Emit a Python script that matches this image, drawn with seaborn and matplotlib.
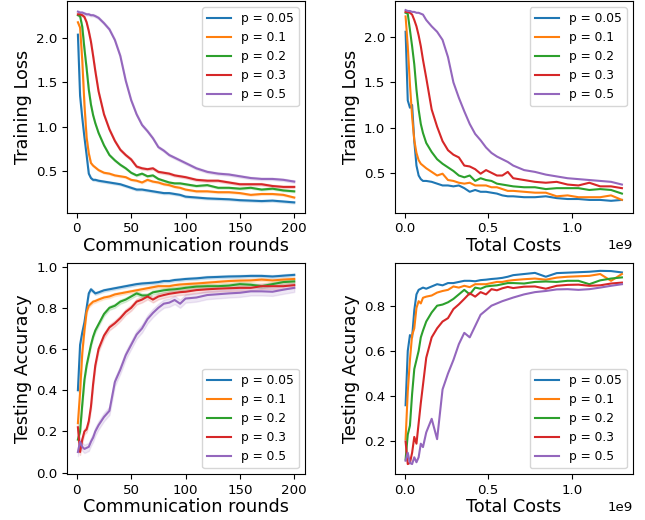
import numpy as np
import pandas as pd
import seaborn as sns
import matplotlib
matplotlib.use("Agg")
import matplotlib.pyplot as plt

labels = ["p = 0.05", "p = 0.1", "p = 0.2", "p = 0.3", "p = 0.5"]

rounds = [1, 3, 5, 7, 9, 11, 13, 15, 17, 20,
          25, 30, 35, 40, 45, 50, 55, 60, 65, 70, 75, 80, 85, 90, 95, 100,
          110, 120, 130, 140, 150, 160, 170, 180, 190, 200]
cost_per_round = 6.5e6  # total costs grow linearly with rounds

# training loss vs rounds (mean over runs)
loss_rounds = {
    "p = 0.05": [2.04, 1.35, 1.10, 0.88, 0.68, 0.47, 0.42, 0.40, 0.40, 0.39,
                 0.38, 0.37, 0.36, 0.35, 0.33, 0.31, 0.29, 0.29, 0.28, 0.27, 0.26, 0.25, 0.25, 0.24, 0.23, 0.21,
                 0.20, 0.19, 0.185, 0.18, 0.17, 0.165, 0.16, 0.165, 0.155, 0.145],
    "p = 0.1": [2.18, 2.12, 1.75, 1.25, 0.88, 0.70, 0.59, 0.56, 0.54, 0.51,
                0.48, 0.47, 0.45, 0.44, 0.43, 0.40, 0.39, 0.37, 0.40, 0.38, 0.37, 0.35, 0.34, 0.32, 0.31, 0.29,
                0.27, 0.27, 0.26, 0.26, 0.25, 0.23, 0.24, 0.24, 0.23, 0.20],
    "p = 0.2": [2.26, 2.25, 2.13, 1.88, 1.66, 1.42, 1.25, 1.13, 1.04, 0.93,
                0.79, 0.68, 0.62, 0.57, 0.53, 0.48, 0.45, 0.47, 0.44, 0.45, 0.41, 0.39, 0.37, 0.36, 0.36, 0.35,
                0.33, 0.34, 0.31, 0.31, 0.30, 0.31, 0.29, 0.30, 0.28, 0.27],
    "p = 0.3": [2.27, 2.27, 2.26, 2.24, 2.18, 2.08, 1.96, 1.80, 1.63, 1.40,
                1.14, 0.97, 0.84, 0.74, 0.68, 0.63, 0.55, 0.53, 0.52, 0.53, 0.49, 0.48, 0.47, 0.45, 0.44, 0.43,
                0.40, 0.39, 0.39, 0.37, 0.35, 0.35, 0.35, 0.33, 0.32, 0.32],
    "p = 0.5": [2.30, 2.29, 2.29, 2.28, 2.27, 2.27, 2.26, 2.26, 2.25, 2.23,
                2.17, 2.10, 1.98, 1.80, 1.52, 1.30, 1.14, 1.02, 0.95, 0.87, 0.77, 0.73, 0.68, 0.65, 0.62, 0.59,
                0.53, 0.49, 0.47, 0.46, 0.44, 0.42, 0.41, 0.41, 0.40, 0.38],
}
loss_band = [0.012, 0.01, 0.01, 0.014, 0.014]

# training loss vs total costs (single run)
loss_costs = {
    "p = 0.05": [2.06, 1.30, 1.22, 1.25, 0.85, 0.58, 0.47, 0.43, 0.41, 0.41,
                 0.40, 0.38, 0.36, 0.36, 0.35, 0.36, 0.33, 0.29, 0.31, 0.29, 0.29, 0.28, 0.27, 0.25, 0.24, 0.24,
                 0.23, 0.23, 0.24, 0.22, 0.21, 0.21, 0.20, 0.20, 0.19, 0.20],
    "p = 0.1": [2.23, 1.90, 1.48, 1.12, 0.86, 0.72, 0.64, 0.60, 0.58, 0.55,
                0.51, 0.47, 0.49, 0.42, 0.41, 0.39, 0.38, 0.39, 0.36, 0.36, 0.36, 0.34, 0.34, 0.32, 0.30, 0.30,
                0.29, 0.28, 0.28, 0.24, 0.25, 0.23, 0.23, 0.23, 0.25, 0.20],
    "p = 0.2": [2.27, 2.26, 2.08, 1.90, 1.70, 1.42, 1.20, 1.04, 0.94, 0.83,
                0.73, 0.65, 0.60, 0.56, 0.52, 0.47, 0.45, 0.47, 0.41, 0.44, 0.42, 0.41, 0.38, 0.37, 0.36, 0.35,
                0.34, 0.34, 0.32, 0.33, 0.33, 0.33, 0.31, 0.32, 0.31, 0.27],
    "p = 0.3": [2.28, 2.28, 2.27, 2.25, 2.19, 2.12, 2.02, 1.90, 1.75, 1.55,
                1.20, 1.01, 0.85, 0.75, 0.70, 0.67, 0.58, 0.57, 0.54, 0.49, 0.53, 0.50, 0.47, 0.47, 0.51, 0.44,
                0.42, 0.40, 0.39, 0.40, 0.37, 0.36, 0.39, 0.35, 0.35, 0.33],
    "p = 0.5": [2.30, 2.29, 2.29, 2.28, 2.28, 2.27, 2.27, 2.26, 2.25, 2.19,
                2.12, 2.06, 1.97, 1.78, 1.50, 1.33, 1.18, 1.04, 0.93, 0.86, 0.78, 0.72, 0.68, 0.65, 0.62, 0.58,
                0.53, 0.51, 0.48, 0.46, 0.44, 0.43, 0.42, 0.41, 0.40, 0.37],
}

# testing accuracy vs rounds (mean over runs)
acc_rounds = {
    "p = 0.05": [0.40, 0.62, 0.68, 0.73, 0.80, 0.87, 0.89, 0.88, 0.87, 0.875,
                 0.885, 0.89, 0.895, 0.90, 0.905, 0.91, 0.915, 0.918, 0.92, 0.922, 0.925, 0.93, 0.93, 0.935, 0.937, 0.94,
                 0.943, 0.948, 0.95, 0.952, 0.953, 0.955, 0.955, 0.952, 0.956, 0.96],
    "p = 0.1": [0.24, 0.39, 0.58, 0.69, 0.78, 0.81, 0.82, 0.83, 0.833, 0.84,
                0.85, 0.855, 0.865, 0.87, 0.875, 0.88, 0.885, 0.89, 0.895, 0.90, 0.905, 0.905, 0.905, 0.91, 0.913, 0.915,
                0.918, 0.922, 0.926, 0.93, 0.932, 0.933, 0.937, 0.933, 0.937, 0.94],
    "p = 0.2": [0.16, 0.20, 0.33, 0.45, 0.52, 0.57, 0.62, 0.66, 0.69, 0.72,
                0.77, 0.80, 0.81, 0.83, 0.84, 0.855, 0.87, 0.86, 0.86, 0.875, 0.88, 0.885, 0.888, 0.89, 0.893, 0.897,
                0.903, 0.905, 0.905, 0.908, 0.915, 0.912, 0.905, 0.915, 0.925, 0.928],
    "p = 0.3": [0.22, 0.10, 0.16, 0.20, 0.21, 0.25, 0.32, 0.43, 0.52, 0.60,
                0.665, 0.705, 0.725, 0.75, 0.78, 0.80, 0.83, 0.84, 0.855, 0.84, 0.855, 0.862, 0.868, 0.872, 0.876, 0.878,
                0.886, 0.89, 0.893, 0.895, 0.897, 0.897, 0.905, 0.905, 0.905, 0.91],
    "p = 0.5": [0.10, 0.15, 0.125, 0.115, 0.12, 0.125, 0.15, 0.17, 0.20, 0.23,
                0.27, 0.30, 0.44, 0.50, 0.57, 0.62, 0.67, 0.70, 0.745, 0.775, 0.80, 0.82, 0.825, 0.838, 0.82, 0.845,
                0.85, 0.862, 0.866, 0.87, 0.873, 0.88, 0.88, 0.878, 0.888, 0.897],
}
acc_band = [0.007, 0.008, 0.01, 0.014, 0.02]

# testing accuracy vs total costs (single run)
acc_costs = {
    "p = 0.05": [0.36, 0.60, 0.67, 0.66, 0.78, 0.85, 0.87, 0.875, 0.88, 0.875,
                 0.885, 0.895, 0.89, 0.90, 0.90, 0.905, 0.91, 0.91, 0.908, 0.913, 0.915, 0.918, 0.92, 0.923, 0.928, 0.935,
                 0.94, 0.945, 0.928, 0.944, 0.946, 0.948, 0.95, 0.954, 0.953, 0.947],
    "p = 0.1": [0.21, 0.42, 0.56, 0.67, 0.70, 0.79, 0.82, 0.81, 0.835, 0.84,
                0.845, 0.858, 0.865, 0.87, 0.885, 0.88, 0.888, 0.882, 0.895, 0.895, 0.895, 0.90, 0.905, 0.905, 0.91, 0.913,
                0.917, 0.92, 0.915, 0.924, 0.928, 0.93, 0.932, 0.94, 0.91, 0.94],
    "p = 0.2": [0.12, 0.23, 0.27, 0.41, 0.52, 0.56, 0.60, 0.66, 0.69, 0.73,
                0.77, 0.80, 0.805, 0.815, 0.83, 0.85, 0.87, 0.85, 0.88, 0.875, 0.885, 0.888, 0.89, 0.895, 0.90, 0.90,
                0.898, 0.905, 0.907, 0.905, 0.91, 0.91, 0.895, 0.912, 0.92, 0.925],
    "p = 0.3": [0.20, 0.10, 0.105, 0.15, 0.22, 0.19, 0.28, 0.37, 0.45, 0.57,
                0.66, 0.70, 0.73, 0.745, 0.785, 0.806, 0.83, 0.855, 0.84, 0.86, 0.85, 0.873, 0.868, 0.877, 0.883, 0.878,
                0.884, 0.885, 0.875, 0.888, 0.892, 0.893, 0.888, 0.89, 0.898, 0.902],
    "p = 0.5": [0.115, 0.15, 0.105, 0.10, 0.13, 0.108, 0.13, 0.19, 0.175, 0.24,
                0.30, 0.21, 0.43, 0.50, 0.56, 0.63, 0.68, 0.66, 0.71, 0.76, 0.78, 0.80, 0.81, 0.82, 0.828, 0.836,
                0.85, 0.86, 0.865, 0.872, 0.873, 0.87, 0.873, 0.88, 0.888, 0.895],
}


def long_frame(curves, x, band=None):
    rows = []
    for i, lab in enumerate(labels):
        for xi, yi in zip(x, curves[lab]):
            if band is None:
                rows.append((xi, yi, lab))
            else:
                # two rows per point -> seaborn draws min/max band around the mean
                rows.append((xi, yi - band[i], lab))
                rows.append((xi, yi + band[i], lab))
    return pd.DataFrame(rows, columns=["x", "y", "p"])


def draw(ax, df, xlabel, ylabel, loc, ylim, band):
    sns.lineplot(data=df, x="x", y="y", hue="p", hue_order=labels,
                 palette=sns.color_palette("tab10", 5),
                 errorbar=("pi", 100) if band else None,
                 err_kws={"alpha": 0.15},
                 linewidth=1.5, ax=ax)
    ax.set_xlabel(xlabel, fontsize=12.7, labelpad=1)
    ax.set_ylabel(ylabel, fontsize=12.7, labelpad=3)
    ax.tick_params(labelsize=9.6)
    ax.set_ylim(*ylim)
    ax.xaxis.get_offset_text().set_fontsize(9.6)
    sns.move_legend(ax, loc, title=None, fontsize=8.8)


costs = np.array(rounds) * cost_per_round

fig, axes = plt.subplots(2, 2, figsize=(6.45, 5.2), dpi=100)
fig.subplots_adjust(left=0.104, right=0.981, top=0.998, bottom=0.088,
                    wspace=0.377, hspace=0.237)

draw(axes[0, 0], long_frame(loss_rounds, rounds, loss_band),
     "Communication rounds", "Training Loss", "upper right", (0.03, 2.42), True)
draw(axes[0, 1], long_frame(loss_costs, costs),
     "Total Costs", "Training Loss", "upper right", (0.06, 2.40), False)
draw(axes[1, 0], long_frame(acc_rounds, rounds, acc_band),
     "Communication rounds", "Testing Accuracy", "lower right", (-0.008, 1.019), True)
draw(axes[1, 1], long_frame(acc_costs, costs),
     "Total Costs", "Testing Accuracy", "lower right", (0.055, 0.99), False)

fig.savefig("out.png", dpi=100)
